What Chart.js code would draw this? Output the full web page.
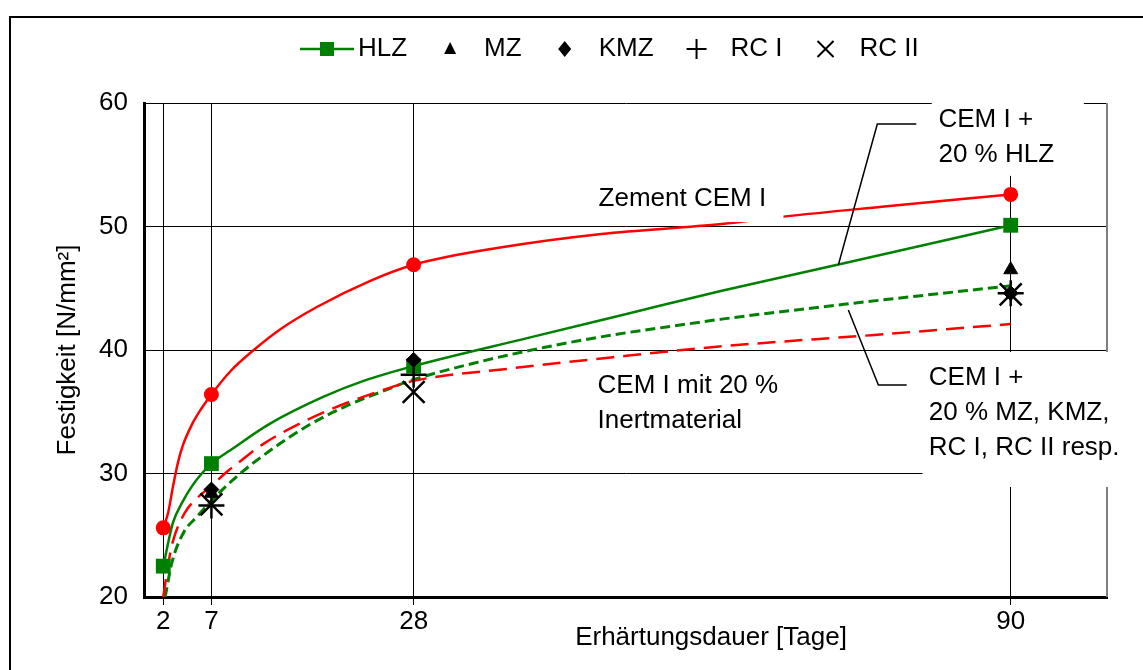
<!DOCTYPE html>
<html>
<head>
<meta charset="utf-8">
<script src="https://cdn.jsdelivr.net/npm/chart.js@4.4.1/dist/chart.umd.min.js"></script>
<style>
html,body{margin:0;padding:0;background:#fff;}
canvas{display:block;}
</style>
</head>
<body>
<canvas id="c" width="1143" height="670"></canvas>
<script>
// ---------- data ----------
const xTickDays = [2, 7, 28, 90];
const yTickValues = [20, 30, 40, 50, 60];

// measured points (markers)
const markerDays = [2, 7, 28, 90];
const cemPoints  = [25.6, 36.4, 46.9, 52.6];
const hlzPoints  = [22.5, 30.8, 38.7, 50.1];
const mzPoints   = [null, 28.4, 38.9, 46.5];
const kmzPoints  = [null, 28.7, 39.2, 44.6];
const rc1Points  = [null, 27.4, 38.0, 44.6];
const rc2Points  = [null, 27.5, 36.6, 44.5];

// fitted curves, values
const cemCurveDays = [2, 2.5, 3, 3.5, 4, 5, 6, 7, 9, 11.4, 14.2, 18, 23.5, 28, 37, 47.5, 60, 66.4, 76.6, 90];
const cemCurveVals = [25.6, 26.8, 28.9, 30.8, 32.2, 34.0, 35.3, 36.4, 38.3, 40.0, 41.7, 43.5, 45.6, 46.9, 48.3, 49.4, 50.2, 50.8, 51.6, 52.6];

const hlzCurveDays = [2, 3, 4, 5, 6, 7, 9, 13, 18.6, 22.8, 28, 40, 50, 60, 72, 90];
const hlzCurveVals = [22.5, 26.0, 27.7, 29.0, 30.0, 30.8, 31.9, 34.0, 36.2, 37.5, 38.7, 41.0, 42.9, 44.8, 46.9, 50.1];

const inertCurveDays = [2, 2.5, 3, 4.3, 5.5, 7, 8.7, 10, 12.4, 16.6, 19.4, 24.6, 28, 38, 48.5, 60, 75.5, 90];
const inertCurveVals = [20.0, 22.6, 24.5, 26.9, 28.0, 29.0, 30.2, 31.0, 32.4, 34.2, 35.2, 36.7, 37.5, 38.5, 39.4, 40.3, 41.2, 42.1];

const mixCurveDays = [2.2, 2.9, 4.1, 5.5, 6.9, 8.7, 10, 11.6, 13.9, 17.3, 21.1, 24.6, 28, 34.6, 41.5, 48.5, 55.5, 60, 72.7, 90];
const mixCurveVals = [20.0, 22.8, 25.2, 26.5, 27.7, 29.1, 30.0, 31.0, 32.3, 34.0, 35.5, 36.6, 37.6, 39.0, 40.2, 41.2, 42.0, 42.5, 43.7, 45.2];

const legendLabels = ['HLZ', 'MZ', 'KMZ', 'RC I', 'RC II'];
const xTitle = 'Erhärtungsdauer [Tage]';
const yTitle = 'Festigkeit [N/mm²]';

// annotations: text anchor / box / leader in data units (day, N/mm²)
const notes = [
  { lines: ['Zement CEM I'], x: 47.2, y: 51.66, box: [46.4, 54.0, 66.4, 50.36] },
  { lines: ['CEM I +', '20 % HLZ'], x: 82.5, y: 58.06, box: [81.8, 60.7, 97.6, 54.1],
    leader: [[80.2, 58.3], [76.15, 58.3], [72.1, 46.88]] },
  { lines: ['CEM I mit 20 %', 'Inertmaterial'], x: 47.1, y: 36.52 },
  { lines: ['CEM I +', '20 % MZ, KMZ,', 'RC I, RC II resp.'], x: 81.5, y: 37.17, box: [80.84, 39.84, 102.6, 28.91],
    leader: [[79.2, 37.17], [76.26, 37.17], [73.14, 43.24]] }
];

// ---------- styling ----------
const FONT = '"Liberation Sans", Arial, Helvetica, sans-serif';
const RED = '#ff0000';
const GREEN = '#008000';
Chart.defaults.font.family = FONT;
Chart.defaults.font.size = 26;
Chart.defaults.color = '#000';

const pts = (xs, ys) => xs.map((x, i) => ({ x: x, y: ys[i] })).filter(p => p.y !== null);

const curve = (label, xs, ys, color, dash, width) => ({
  label, data: pts(xs, ys), borderColor: color, borderWidth: width, borderDash: dash,
  pointRadius: 0, pointHoverRadius: 0, fill: false, cubicInterpolationMode: 'monotone', order: 10
});
const marks = (label, ys, style, radius, fillColor, border, bw, order) => ({
  label, data: pts(markerDays, ys), showLine: false, pointStyle: style, pointRadius: radius,
  pointHoverRadius: radius, backgroundColor: fillColor, borderColor: border, borderWidth: bw, order
});

const decor = {
  id: 'decor',
  beforeDraw(chart) {
    const ctx = chart.ctx;
    ctx.save();
    ctx.strokeStyle = '#000';
    ctx.lineWidth = 2;
    ctx.beginPath();
    ctx.moveTo(10, chart.height);
    ctx.lineTo(10, 17);
    ctx.lineTo(chart.width, 17);
    ctx.stroke();
    ctx.restore();
  },
  beforeDatasetsDraw(chart) {
    const { ctx, chartArea: a } = chart;
    ctx.save();
    ctx.strokeStyle = '#808080';
    ctx.lineWidth = 2;
    ctx.beginPath();
    ctx.moveTo(a.right, a.top);
    ctx.lineTo(a.right, a.bottom);
    ctx.stroke();
    ctx.restore();
  },
  afterDatasetsDraw(chart) {
    const ctx = chart.ctx;
    const X = v => chart.scales.x.getPixelForValue(v);
    const Y = v => chart.scales.y.getPixelForValue(v);
    ctx.save();
    notes.forEach(n => {
      if (n.box) {
        const l = X(n.box[0]), t = Y(n.box[1]), r = X(n.box[2]), b = Y(n.box[3]);
        ctx.fillStyle = '#fff';
        ctx.fillRect(l, t, r - l, b - t);
      }
    });
    notes.forEach(n => {
      if (n.leader) {
        ctx.strokeStyle = '#000';
        ctx.lineWidth = 1.5;
        ctx.beginPath();
        n.leader.forEach((p, i) => i ? ctx.lineTo(X(p[0]), Y(p[1])) : ctx.moveTo(X(p[0]), Y(p[1])));
        ctx.stroke();
      }
      ctx.fillStyle = '#000';
      ctx.font = '26px ' + FONT;
      ctx.textAlign = 'left';
      ctx.textBaseline = 'alphabetic';
      n.lines.forEach((s, i) => ctx.fillText(s, X(n.x), Y(n.y) + i * 35));
    });
    ctx.restore();
  },
  afterDraw(chart) {
    const ctx = chart.ctx;
    ctx.save();
    // x axis title
    ctx.fillStyle = '#000';
    ctx.font = '26px ' + FONT;
    ctx.textAlign = 'center';
    ctx.textBaseline = 'alphabetic';
    ctx.fillText(xTitle, 711, 645);
    // legend
    const y = 49;
    ctx.textAlign = 'left';
    ctx.textBaseline = 'middle';
    let x = 300;
    legendLabels.forEach((lab, i) => {
      let tx;
      if (i === 0) {
        ctx.strokeStyle = GREEN; ctx.lineWidth = 2.5;
        ctx.beginPath(); ctx.moveTo(x, y); ctx.lineTo(x + 54, y); ctx.stroke();
        ctx.fillStyle = GREEN; ctx.fillRect(x + 20, y - 7, 14, 14);
        tx = x + 58;
      } else {
        const cx = x + 43;
        ctx.fillStyle = '#000'; ctx.strokeStyle = '#000'; ctx.lineWidth = 2;
        ctx.beginPath();
        if (i === 1) { ctx.moveTo(cx, y - 7); ctx.lineTo(cx + 6, y + 5); ctx.lineTo(cx - 6, y + 5); ctx.closePath(); ctx.fill(); }
        else if (i === 2) { ctx.moveTo(cx, y - 8); ctx.lineTo(cx + 6.5, y); ctx.lineTo(cx, y + 8); ctx.lineTo(cx - 6.5, y); ctx.closePath(); ctx.fill(); }
        else if (i === 3) { ctx.moveTo(cx - 10, y); ctx.lineTo(cx + 10, y); ctx.moveTo(cx, y - 10); ctx.lineTo(cx, y + 10); ctx.stroke(); }
        else { ctx.moveTo(cx - 8, y - 8); ctx.lineTo(cx + 8, y + 8); ctx.moveTo(cx + 8, y - 8); ctx.lineTo(cx - 8, y + 8); ctx.stroke(); }
        tx = cx + 34;
      }
      ctx.fillStyle = '#000';
      ctx.fillText(lab, tx, y);
      x = tx + ctx.measureText(lab).width;
    });
    ctx.restore();
  }
};

new Chart(document.getElementById('c'), {
  type: 'line',
  data: {
    datasets: [
      curve('Zement CEM I', cemCurveDays, cemCurveVals, RED, [], 2.5),
      curve('HLZ Kurve', hlzCurveDays, hlzCurveVals, GREEN, [], 2.5),
      curve('Inertmaterial', inertCurveDays, inertCurveVals, RED, [18, 9], 2.5),
      curve('MZ, KMZ, RC I, RC II', mixCurveDays, mixCurveVals, GREEN, [10, 5], 3),
      marks('MZ', mzPoints, 'triangle', 8, '#000', '#000', 1, 6),
      marks('CEM I', cemPoints, 'circle', 7.5, RED, RED, 0, 5),
      marks('HLZ', hlzPoints, 'rect', 10.5, GREEN, GREEN, 0, 5),
      marks('KMZ', kmzPoints, 'rectRot', 7.5, '#000', '#000', 1, 4),
      marks('RC I', rc1Points, 'cross', 13, '#000', '#000', 2.5, 3),
      marks('RC II', rc2Points, 'crossRot', 15.5, '#000', '#000', 2.5, 2)
    ]
  },
  options: {
    responsive: false,
    animation: false,
    events: [],
    layout: { padding: { left: 0, right: 36, top: 103, bottom: 0 } },
    plugins: { legend: { display: false }, tooltip: { enabled: false }, title: { display: false } },
    scales: {
      x: {
        type: 'linear', min: 0, max: 100,
        afterBuildTicks: s => { s.ticks = xTickDays.map(v => ({ value: v })); },
        afterFit: s => { s.height = 73; },
        ticks: { padding: 1, maxRotation: 0, autoSkip: false, font: { size: 26 }, color: '#000' },
        grid: { color: '#000', lineWidth: 1, drawTicks: true, tickLength: 8 },
        border: { color: '#000', width: 3 },
        title: { display: false }
      },
      y: {
        type: 'linear', min: 20, max: 60,
        afterBuildTicks: s => { s.ticks = yTickValues.map(v => ({ value: v })); },
        afterFit: s => { s.width = 144; },
        ticks: { padding: 16, font: { size: 26 }, color: '#000' },
        grid: { color: '#000', lineWidth: 1, drawTicks: false },
        border: { color: '#000', width: 3 },
        title: { display: true, text: yTitle, font: { size: 26 }, color: '#000', padding: { top: 52, bottom: 0 } }
      }
    }
  },
  plugins: [decor]
});
</script>
</body>
</html>
